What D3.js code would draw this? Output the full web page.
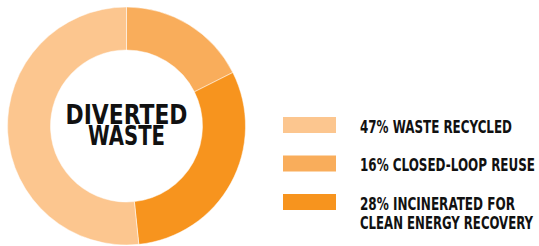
<!DOCTYPE html>
<html>
<head>
<meta charset="utf-8">
<script src="https://cdn.jsdelivr.net/npm/d3@7"></script>
<style>
    body { margin: 0; background: #fff; }
    text { font-family: "DejaVu Sans Condensed", "Liberation Sans Narrow", sans-serif; font-weight: bold; fill: #111; }
</style>
</head>
<body>
<div id="chart"></div>
<script>
// Slices in drawing order, clockwise from 12 o'clock
const categories = ['CLOSED-LOOP REUSE', 'INCINERATED FOR CLEAN ENERGY RECOVERY', 'WASTE RECYCLED']
const shares = [16, 28, 47]
const colors = ['#F9AD5B', '#F7941E', '#FCC68F']

// Legend order as in the picture
const legendLines = [
    ['47% WASTE RECYCLED'],
    ['16% CLOSED-LOOP REUSE'],
    ['28% INCINERATED FOR', 'CLEAN ENERGY RECOVERY']
]
const legendColors = ['#FCC68F', '#F9AD5B', '#F7941E']
const centerLabel = ['DIVERTED', 'WASTE']

const width = 539
const height = 246
const cx = 126.5
const cy = 126
const outerR = 119
const innerR = 76

// the condensed face is squeezed to the widths measured on the picture
const centerWidths = [122, 77]
const legendWidths = [[152], [175], [155, 173]]

const svg = d3.select('#chart')
    .append('svg')
    .attr('width', width)
    .attr('height', height)

const pie = d3.pie().sort(null).value(d => d)
const arc = d3.arc().innerRadius(innerR).outerRadius(outerR)
const color = d3.scaleOrdinal().domain(d3.range(shares.length)).range(colors)

const donut = svg.append('g')
    .attr('transform', `translate(${cx},${cy})`)

donut.selectAll('path')
    .data(pie(shares))
    .enter()
    .append('path')
    .attr('d', arc)
    .attr('fill', (d, i) => color(i))
    .attr('stroke', '#fff')
    .attr('stroke-width', 0.5)

// Title inside the ring
donut.selectAll('.center-label')
    .data(centerLabel)
    .enter()
    .append('text')
    .attr('class', 'center-label')
    .attr('x', (d, i) => -centerWidths[i] / 2)
    .attr('y', (d, i) => -2.5 + i * 21.7)
    .attr('font-size', 27)
    .attr('textLength', (d, i) => centerWidths[i])
    .attr('lengthAdjust', 'spacingAndGlyphs')
    .text(d => d)

// Legend
const rowY = d3.scaleLinear().domain([0, 2]).range([117, 194])

const row = svg.selectAll('.legend-row')
    .data(legendLines.map((lines, i) => ({ lines, i })))
    .enter()
    .append('g')
    .attr('class', 'legend-row')
    .attr('transform', d => `translate(283,${rowY(d.i)})`)

row.append('rect')
    .attr('width', 53)
    .attr('height', 16)
    .attr('fill', d => legendColors[d.i])

row.selectAll('text')
    .data(d => d.lines.map((t, j) => ({ t, w: legendWidths[d.i][j], j })))
    .enter()
    .append('text')
    .attr('x', 77)
    .attr('y', d => 15.5 + d.j * 19.5)
    .attr('font-size', 17)
    .attr('textLength', d => d.w)
    .attr('lengthAdjust', 'spacingAndGlyphs')
    .text(d => d.t)
</script>
</body>
</html>
